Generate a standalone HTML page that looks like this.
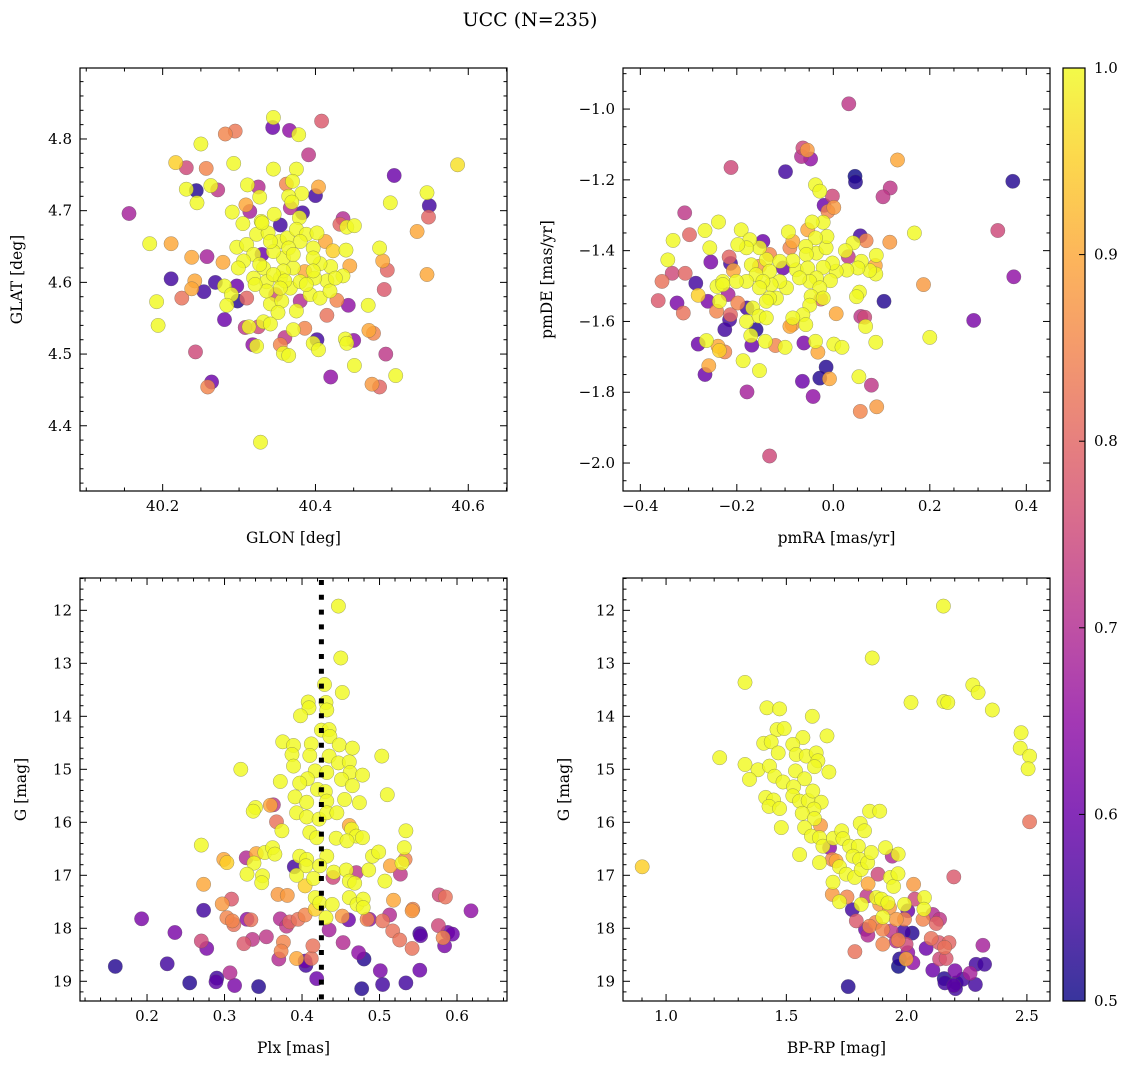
<!DOCTYPE html>
<html><head><meta charset="utf-8">
<style>
html,body{margin:0;padding:0;background:#fff;}
svg{display:block;font-family:"DejaVu Serif","Liberation Serif",serif;}
</style></head>
<body>
<svg id="fig" width="1136" height="1068" viewBox="0 0 1136 1068" xmlns="http://www.w3.org/2000/svg">
<defs>
<linearGradient id="plasmaGrad" x1="0" y1="1" x2="0" y2="0">
<stop offset="0" stop-color="#0d0887"/><stop offset="0.1" stop-color="#41049d"/><stop offset="0.2" stop-color="#6a00a8"/><stop offset="0.3" stop-color="#8f0da4"/><stop offset="0.4" stop-color="#b12a90"/><stop offset="0.5" stop-color="#cc4778"/><stop offset="0.6" stop-color="#e16462"/><stop offset="0.7" stop-color="#f2844b"/><stop offset="0.8" stop-color="#fca636"/><stop offset="0.9" stop-color="#fcce25"/><stop offset="1" stop-color="#f0f921"/>
</linearGradient>
</defs>
<text x="530" y="26" font-size="19" text-anchor="middle">UCC (N=235)</text>
</svg>
<script>
// ---- Panel 1: GLON vs GLAT ----
const tlGlon=[40.345,40.344,40.366,40.378,40.408,40.282,40.295,40.250,40.391,40.217,40.231,40.257,40.293,40.345,40.375,40.586,40.503,40.231,40.244,40.272,40.263,40.245,40.311,40.325,40.327,40.362,40.370,40.382,40.404,40.400,40.365,40.546,40.549,40.548,40.498,40.156,40.291,40.309,40.314,40.369,40.383,40.346,40.367,40.379,40.533,40.436,40.432,40.441,40.451,40.305,40.329,40.354,40.183,40.211,40.238,40.258,40.279,40.297,40.310,40.323,40.338,40.353,40.363,40.375,40.388,40.402,40.413,40.423,40.440,40.484,40.488,40.494,40.546,40.490,40.445,40.436,40.420,40.406,40.415,40.399,40.386,40.371,40.358,40.345,40.330,40.319,40.306,40.299,40.332,40.319,40.336,40.354,40.367,40.380,40.393,40.406,40.419,40.428,40.211,40.242,40.238,40.254,40.225,40.269,40.281,40.297,40.290,40.298,40.310,40.284,40.192,40.194,40.348,40.341,40.356,40.375,40.380,40.351,40.443,40.469,40.415,40.281,40.332,40.341,40.313,40.308,40.325,40.371,40.386,40.360,40.354,40.318,40.323,40.402,40.397,40.404,40.439,40.450,40.441,40.470,40.476,40.358,40.365,40.243,40.492,40.451,40.420,40.505,40.474,40.484,40.264,40.259,40.328,40.330,40.380,40.397,40.365,40.371,40.341,40.397,40.327,40.358,40.345,40.360,40.388,40.354,40.336,40.321,40.397,40.426];
const tlGlat=[4.830,4.816,4.812,4.806,4.825,4.807,4.811,4.793,4.778,4.767,4.760,4.759,4.766,4.758,4.758,4.764,4.749,4.730,4.728,4.729,4.735,4.711,4.736,4.733,4.719,4.737,4.741,4.724,4.733,4.721,4.720,4.725,4.707,4.691,4.711,4.696,4.698,4.708,4.699,4.712,4.697,4.695,4.704,4.690,4.671,4.689,4.681,4.677,4.679,4.682,4.685,4.680,4.654,4.654,4.635,4.636,4.628,4.649,4.653,4.667,4.669,4.657,4.662,4.674,4.667,4.669,4.657,4.644,4.645,4.648,4.630,4.617,4.611,4.590,4.623,4.609,4.622,4.626,4.602,4.606,4.615,4.620,4.634,4.643,4.639,4.639,4.630,4.620,4.620,4.606,4.601,4.606,4.592,4.601,4.583,4.578,4.588,4.575,4.605,4.602,4.591,4.587,4.578,4.600,4.595,4.595,4.583,4.574,4.578,4.568,4.573,4.540,4.583,4.570,4.574,4.560,4.574,4.558,4.568,4.568,4.554,4.548,4.545,4.542,4.538,4.537,4.538,4.534,4.536,4.523,4.513,4.513,4.511,4.520,4.515,4.506,4.521,4.519,4.515,4.533,4.529,4.501,4.498,4.503,4.500,4.484,4.468,4.470,4.458,4.454,4.461,4.454,4.377,4.683,4.657,4.648,4.648,4.639,4.657,4.634,4.625,4.616,4.611,4.602,4.597,4.592,4.588,4.597,4.616,4.606];
const tlProb=[1.0,0.6,0.65,1.0,0.78,0.85,0.83,1.0,0.72,0.95,0.75,0.85,1.0,1.0,1.0,0.97,0.6,1.0,0.52,0.72,1.0,1.0,1.0,0.7,1.0,0.85,1.0,1.0,0.9,0.55,1.0,1.0,0.55,0.8,1.0,0.68,1.0,0.9,0.68,1.0,0.55,1.0,0.7,1.0,0.9,0.7,0.8,1.0,1.0,1.0,1.0,0.55,1.0,0.9,0.9,0.68,0.9,1.0,1.0,1.0,1.0,1.0,1.0,1.0,1.0,1.0,0.9,0.95,1.0,1.0,0.9,0.8,0.9,0.78,0.9,1.0,1.0,1.0,1.0,1.0,0.9,1.0,1.0,1.0,0.6,1.0,1.0,1.0,1.0,1.0,1.0,1.0,1.0,1.0,1.0,1.0,1.0,0.85,0.55,0.9,0.9,0.55,0.82,0.55,1.0,0.6,1.0,0.52,0.8,1.0,1.0,1.0,0.75,1.0,1.0,1.0,0.7,1.0,0.65,1.0,0.82,0.6,1.0,1.0,1.0,0.72,0.75,1.0,0.85,0.72,0.85,0.65,1.0,0.55,1.0,1.0,1.0,0.65,1.0,0.9,0.85,1.0,1.0,0.75,0.72,1.0,0.65,1.0,0.88,0.8,0.6,0.85,1.0,1.0,1.0,1.0,1.0,1.0,1.0,1.0,1.0,1.0,1.0,1.0,1.0,1.0,1.0,1.0,1.0,1.0];
const tlXTicks=[40.2,40.4,40.6];
const tlYTicks=[4.4,4.5,4.6,4.7,4.8];

// ---- Panel 2: pmRA vs pmDE ----
const trPmra=[0.032,-0.063,-0.054,-0.066,-0.047,0.133,-0.212,-0.099,0.045,0.046,0.372,0.118,0.103,-0.037,-0.028,-0.002,-0.019,0.001,-0.011,-0.308,0.341,0.168,-0.332,-0.298,-0.266,-0.238,-0.256,-0.191,-0.343,-0.334,-0.307,-0.355,-0.285,-0.363,-0.324,-0.311,-0.280,-0.260,-0.242,-0.254,-0.216,-0.213,-0.207,-0.218,-0.241,-0.229,-0.236,-0.198,-0.179,-0.167,-0.213,-0.215,-0.225,-0.180,-0.154,-0.139,-0.160,-0.171,-0.169,-0.141,-0.120,-0.100,-0.280,-0.263,-0.239,-0.225,-0.236,-0.258,-0.266,-0.187,-0.153,-0.179,-0.061,-0.037,-0.032,0.001,0.018,-0.015,-0.028,-0.008,-0.064,-0.042,0.053,0.079,0.056,0.090,-0.132,0.088,0.200,0.291,0.374,0.187,0.105,0.057,0.065,0.067,0.006,0.054,0.048,-0.026,0.117,0.056,0.068,0.041,0.025,0.031,0.089,0.087,0.088,0.075,0.058,0.051,0.028,0.006,-0.006,-0.002,-0.021,-0.035,-0.015,-0.013,-0.037,-0.021,-0.044,-0.053,-0.057,-0.056,-0.077,-0.053,-0.035,-0.049,-0.028,-0.046,-0.049,-0.063,-0.057,-0.084,-0.090,-0.085,-0.093,-0.084,-0.090,-0.084,-0.104,-0.097,-0.111,-0.129,-0.118,-0.139,-0.132,-0.146,-0.153,-0.173,-0.180,-0.198,-0.170,-0.153,-0.160,-0.132,-0.146,-0.153,-0.132,-0.139,-0.180,-0.201,-0.229,-0.111,-0.070,-0.021];
const trPmde=[-0.985,-1.110,-1.116,-1.134,-1.141,-1.144,-1.165,-1.177,-1.190,-1.206,-1.204,-1.223,-1.248,-1.214,-1.232,-1.246,-1.272,-1.278,-1.289,-1.293,-1.343,-1.350,-1.371,-1.355,-1.343,-1.319,-1.392,-1.341,-1.426,-1.464,-1.464,-1.487,-1.492,-1.541,-1.548,-1.576,-1.526,-1.543,-1.571,-1.432,-1.418,-1.436,-1.456,-1.524,-1.501,-1.487,-1.543,-1.548,-1.562,-1.562,-1.581,-1.595,-1.623,-1.600,-1.585,-1.590,-1.623,-1.640,-1.667,-1.656,-1.668,-1.673,-1.664,-1.654,-1.670,-1.686,-1.682,-1.725,-1.750,-1.711,-1.739,-1.799,-1.661,-1.656,-1.687,-1.664,-1.673,-1.729,-1.760,-1.762,-1.769,-1.812,-1.756,-1.780,-1.854,-1.841,-1.980,-1.659,-1.645,-1.597,-1.474,-1.496,-1.543,-1.586,-1.588,-1.614,-1.578,-1.517,-1.530,-1.537,-1.376,-1.358,-1.372,-1.378,-1.400,-1.417,-1.413,-1.442,-1.466,-1.456,-1.430,-1.449,-1.455,-1.458,-1.485,-1.435,-1.447,-1.407,-1.392,-1.360,-1.364,-1.320,-1.319,-1.341,-1.388,-1.411,-1.454,-1.449,-1.477,-1.487,-1.505,-1.529,-1.554,-1.581,-1.609,-1.590,-1.614,-1.609,-1.347,-1.374,-1.392,-1.428,-1.449,-1.505,-1.487,-1.496,-1.534,-1.425,-1.411,-1.374,-1.392,-1.369,-1.392,-1.383,-1.440,-1.444,-1.468,-1.458,-1.487,-1.505,-1.534,-1.543,-1.487,-1.487,-1.496,-1.430,-1.477,-1.534];
const trProb=[0.72,0.75,0.88,0.7,0.65,0.9,0.75,0.55,0.5,0.52,0.52,0.72,0.72,1.0,1.0,0.75,0.6,0.88,0.85,0.72,0.75,1.0,1.0,0.8,1.0,1.0,1.0,1.0,1.0,0.75,0.8,0.82,0.55,0.78,0.62,0.82,0.95,0.62,0.85,0.62,0.8,0.55,0.9,0.68,1.0,1.0,1.0,0.85,0.55,1.0,0.8,0.55,0.55,1.0,1.0,1.0,0.52,1.0,0.6,1.0,0.85,1.0,0.6,1.0,0.9,0.85,0.95,0.9,0.6,1.0,1.0,0.68,0.62,1.0,0.9,1.0,1.0,0.52,0.52,0.9,0.6,0.65,1.0,0.72,0.85,0.88,0.75,1.0,1.0,0.62,0.65,0.88,0.52,0.72,0.75,1.0,0.9,1.0,1.0,0.8,0.88,0.55,0.85,1.0,1.0,0.72,1.0,0.9,1.0,1.0,1.0,1.0,1.0,1.0,1.0,1.0,1.0,1.0,1.0,1.0,1.0,1.0,1.0,0.9,1.0,1.0,1.0,1.0,1.0,1.0,1.0,1.0,1.0,1.0,1.0,1.0,0.9,0.88,1.0,0.9,0.85,1.0,0.6,1.0,1.0,1.0,1.0,1.0,0.85,0.6,1.0,1.0,1.0,1.0,1.0,0.88,1.0,1.0,1.0,1.0,1.0,1.0,1.0,1.0,1.0,1.0,1.0,1.0,1.0,0.75];
const trXTicks=[-0.4,-0.2,0.0,0.2,0.4];
const trYTicks=[-1.0,-1.2,-1.4,-1.6,-1.8,-2.0];

// ---- Panel 3: Plx vs G ----
const blPlx=[0.447,0.450,0.452,0.429,0.431,0.432,0.408,0.409,0.398,0.425,0.435,0.436,0.375,0.389,0.387,0.412,0.410,0.435,0.448,0.465,0.503,0.447,0.461,0.389,0.321,0.417,0.432,0.462,0.478,0.407,0.397,0.372,0.451,0.465,0.420,0.430,0.391,0.406,0.432,0.455,0.474,0.510,0.340,0.337,0.359,0.363,0.393,0.406,0.422,0.432,0.445,0.367,0.374,0.410,0.419,0.444,0.461,0.464,0.470,0.478,0.534,0.458,0.270,0.352,0.362,0.365,0.341,0.328,0.299,0.303,0.338,0.397,0.406,0.432,0.405,0.390,0.393,0.423,0.441,0.457,0.470,0.486,0.491,0.499,0.532,0.514,0.529,0.533,0.527,0.507,0.461,0.468,0.440,0.415,0.404,0.329,0.349,0.348,0.273,0.369,0.381,0.417,0.423,0.439,0.461,0.471,0.479,0.479,0.518,0.297,0.309,0.577,0.585,0.618,0.543,0.542,0.513,0.273,0.193,0.303,0.310,0.312,0.329,0.334,0.372,0.380,0.384,0.395,0.404,0.417,0.431,0.452,0.460,0.484,0.487,0.504,0.236,0.270,0.277,0.325,0.336,0.354,0.376,0.373,0.370,0.393,0.404,0.405,0.412,0.414,0.435,0.453,0.473,0.480,0.517,0.526,0.542,0.552,0.553,0.576,0.582,0.588,0.594,0.584,0.159,0.226,0.255,0.290,0.289,0.307,0.313,0.344,0.419,0.477,0.501,0.504,0.534,0.552];
const blG=[11.92,12.90,13.55,13.40,13.74,13.88,13.73,13.84,13.99,14.26,14.25,14.38,14.48,14.55,14.72,14.52,14.74,14.75,14.54,14.60,14.75,14.88,14.86,14.94,15.00,15.03,15.06,15.06,15.11,15.18,15.26,15.23,15.19,15.31,15.38,15.42,15.52,15.62,15.60,15.57,15.63,15.48,15.72,15.79,15.68,15.67,15.82,15.90,15.94,15.82,15.82,15.99,16.16,16.19,16.29,16.30,16.06,16.13,16.26,16.29,16.16,16.35,16.43,16.57,16.48,16.60,16.59,16.67,16.70,16.76,16.77,16.64,16.70,16.64,16.82,16.84,17.00,16.82,16.94,16.90,16.95,16.90,16.64,16.56,16.48,16.82,16.77,16.70,16.98,17.11,17.11,17.15,17.04,17.06,17.20,16.98,17.01,17.14,17.17,17.36,17.38,17.42,17.52,17.55,17.42,17.55,17.45,17.61,17.47,17.54,17.45,17.37,17.41,17.67,17.64,17.67,17.75,17.66,17.82,17.80,17.86,17.93,17.83,17.84,17.82,17.96,17.88,17.83,17.75,17.64,17.80,17.77,17.84,17.83,17.83,17.86,18.08,18.24,18.38,18.29,18.21,18.16,18.26,18.43,18.58,18.57,18.62,18.70,18.57,18.33,18.03,18.27,18.46,18.58,18.05,18.22,18.38,18.10,18.14,17.95,18.18,18.08,18.11,18.33,18.72,18.67,19.03,18.94,19.01,18.84,19.08,19.10,18.95,19.14,18.80,19.06,19.03,18.79];
const blProb=[1,1,1,1,1,1,1,1,1,1,1,1,1,1,1,1,1,1,1,1,1,1,1,1,1,1,1,1,1,1,1,1,1,1,1,1,1,1,1,1,1,1,1,1,0.9,0.72,1,1,1,1,1,0.82,1,1,1,1,0.9,1,1,1,1,1,1,1,1,1,0.9,0.7,0.9,0.95,1,1,1,1,1,0.55,1,1,1,1,0.72,1,1,1,1,0.9,1,0.85,0.72,1,1,1,0.75,1,0.95,1,1,1,0.9,0.88,0.88,1,1,1,1,1,1,1,0.9,0.88,0.78,0.75,0.82,0.65,0.85,0.88,0.7,0.55,0.62,0.85,0.85,0.82,0.65,0.82,0.7,0.72,0.8,0.82,0.85,0.95,1,0.88,0.6,0.85,0.65,0.82,0.62,0.75,0.62,0.78,0.72,0.72,0.85,0.85,0.7,0.9,0.6,0.55,0.82,0.82,0.68,0.7,0.65,0.52,0.82,0.82,0.82,0.55,0.58,0.75,0.85,0.6,0.6,0.62,0.52,0.55,0.52,0.55,0.58,0.7,0.62,0.52,0.6,0.52,0.62,0.55,0.55,0.6];
const blXTicks=[0.2,0.3,0.4,0.5,0.6];
const blYTicks=[12,13,14,15,16,17,18,19];
const plxLine=[0.425];

// ---- Panel 4: BP-RP vs G ----
const brBprp=[2.153,1.857,1.328,2.275,2.297,2.018,2.155,2.171,2.356,1.419,1.472,1.608,2.476,1.461,1.491,1.569,1.669,1.406,1.437,1.527,2.472,2.511,2.505,1.223,1.328,1.382,1.347,1.430,1.466,1.451,1.541,1.583,1.624,1.631,1.617,1.677,1.538,1.576,1.486,1.414,1.447,1.428,1.472,1.530,1.527,1.555,1.591,1.610,1.645,1.615,1.566,1.479,1.617,1.642,1.576,1.604,1.638,1.652,1.680,1.696,1.730,1.735,1.807,1.825,1.846,1.888,1.912,1.555,1.638,1.707,1.691,1.763,1.799,1.777,1.805,1.721,1.749,1.784,1.811,1.838,1.853,1.940,1.965,1.881,1.932,1.946,1.964,2.196,2.511,0.901,1.694,1.691,1.721,1.752,1.840,1.835,1.874,1.895,1.922,1.888,1.811,2.029,2.034,2.074,1.991,2.072,1.774,1.791,1.901,1.929,1.957,1.991,2.005,2.068,2.109,2.137,2.123,1.871,1.829,1.839,1.846,1.901,1.936,1.987,2.023,1.965,1.998,1.901,1.957,1.785,2.005,1.998,1.971,1.966,2.026,2.081,2.102,2.134,2.158,2.176,2.137,2.164,2.109,2.317,2.201,2.264,2.289,2.324,2.156,2.159,2.206,2.234,2.196,2.203,2.286,1.757];
const brG=[11.92,12.90,13.36,13.41,13.55,13.74,13.72,13.74,13.88,13.84,13.86,14.00,14.31,14.25,14.23,14.40,14.37,14.51,14.48,14.53,14.60,14.75,14.99,14.78,14.91,15.01,15.19,14.94,14.69,15.13,14.72,14.75,14.69,14.84,14.95,15.05,15.03,15.18,15.24,15.53,15.58,15.70,15.74,15.33,15.50,15.60,15.59,15.41,15.62,15.75,15.83,16.10,15.93,16.06,16.10,16.26,16.29,16.45,16.48,16.30,16.16,16.31,16.02,16.16,15.79,15.79,16.48,16.61,16.76,16.73,16.70,16.45,16.45,16.64,16.70,16.84,16.98,17.04,16.89,16.76,16.57,16.64,16.60,16.98,17.04,17.21,16.97,17.03,15.99,16.84,17.13,17.36,17.50,17.41,17.16,17.39,17.42,17.45,17.52,17.55,17.55,17.17,17.45,17.42,17.55,17.64,17.65,17.86,17.79,17.61,17.83,17.83,17.67,17.83,17.74,17.83,17.91,17.89,18.02,18.13,17.96,18.02,18.05,18.07,18.09,18.22,18.30,18.30,18.24,18.44,18.46,18.58,18.58,18.72,18.65,18.38,18.19,18.27,18.36,18.27,18.58,18.57,18.79,18.32,18.80,18.85,18.68,18.68,18.95,19.03,19.03,18.96,19.08,19.14,19.06,19.10];
const brProb=[1,1,1,1,1,1,1,1,1,1,1,1,1,1,1,1,1,1,1,1,1,1,1,1,1,1,1,1,1,1,1,1,1,1,1,1,1,1,1,1,1,1,1,1,1,1,1,1,1,1,1,1,1,0.88,1,1,1,1,0.65,1,1,1,1,1,1,1,1,1,1,0.9,0.85,1,1,1,1,1,1,1,1,1,1,0.7,1,0.75,1,1,1,0.78,0.82,0.95,1,0.88,1,0.85,0.9,0.72,1,1,1,0.88,1,0.88,0.75,1,1,1,0.55,0.78,1,0.88,0.88,0.85,0.6,0.85,0.7,0.72,0.8,0.85,0.6,0.7,0.85,0.85,0.72,0.55,0.52,0.85,0.75,0.85,0.7,0.82,0.65,0.9,0.52,0.5,0.65,0.6,0.82,0.78,0.82,0.8,0.75,0.78,0.6,0.68,0.62,0.68,0.55,0.55,0.52,0.55,0.55,0.55,0.58,0.55,0.55,0.52];
const brXTicks=[1.0,1.5,2.0,2.5];
const brYTicks=[12,13,14,15,16,17,18,19];

const cbTicks=[0.5,0.6,0.7,0.8,0.9,1.0];

const NS="http://www.w3.org/2000/svg";
const svg=document.getElementById('fig');
const plasma=[[13,8,135],[65,4,157],[106,0,168],[143,13,164],[177,42,144],[204,71,120],[225,100,98],[242,132,75],[252,166,54],[252,206,37],[240,249,33]];
function cmap(p){
  let t=(p-0.5)/0.5; t=Math.max(0,Math.min(1,t));
  const f=t*10, i=Math.min(9,Math.floor(f)), r=f-i;
  const a=plasma[i], b=plasma[i+1];
  return 'rgb('+[0,1,2].map(k=>Math.round(a[k]+(b[k]-a[k])*r)).join(',')+')';
}
function mk(tag,attrs,parent){
  const e=document.createElementNS(NS,tag);
  for(const k in attrs) e.setAttribute(k,attrs[k]);
  (parent||svg).appendChild(e);
  return e;
}
function fmt(v,d){return (v<0?'\u2212':'')+Math.abs(v).toFixed(d);}

function panel(o){
  const g=mk('g',{});
  
  
  const X=v=>o.x0+(v-o.xd[0])/(o.xd[1]-o.xd[0])*(o.x1-o.x0);
  const Y=v=>o.y1-(v-o.yd[0])/(o.yd[1]-o.yd[0])*(o.y1-o.y0);
  const idx=o.xs.map((_,i)=>i).sort((a,b)=>o.ps[a]-o.ps[b]);
  const pts=mk('g',{},g);
  
  
  idx.forEach(i=>{
    const c=mk('circle',{cx:X(o.xs[i]).toFixed(1),cy:Y(o.ys[i]).toFixed(1),r:7.2,fill:cmap(o.ps[i]),'fill-opacity':0.82,stroke:'#555','stroke-width':0.5,'stroke-opacity':0.55},pts);
    
    
  });
  if(o.vline){
    o.vline.forEach(v=>{
      const l=mk('line',{x1:X(v),x2:X(v),y1:o.y0+2,y2:o.y1,stroke:'#000','stroke-width':5,'stroke-dasharray':'5 9.8'},g);
      
      
    });
  }
  const fr=mk('rect',{x:o.x0,y:o.y0,width:o.x1-o.x0,height:o.y1-o.y0,fill:'none',stroke:'#000','stroke-width':1.2},g);
  
  
  const tk=mk('g',{stroke:'#000','stroke-width':1},g);
  
  
  const xr=[Math.min(...o.xd),Math.max(...o.xd)], yr=[Math.min(...o.yd),Math.max(...o.yd)];
  for(let v=Math.ceil(xr[0]/o.xm-1e-6)*o.xm; v<=xr[1]+1e-9; v+=o.xm){
    const isMaj=o.xt.some(t=>Math.abs(t-v)<o.xm/3); const L=isMaj?7:3.5; const px=X(v);
    mk('line',{x1:px,x2:px,y1:o.y1,y2:o.y1-L},tk); mk('line',{x1:px,x2:px,y1:o.y0,y2:o.y0+L},tk);
  }
  for(let v=Math.ceil(yr[0]/o.ym-1e-6)*o.ym; v<=yr[1]+1e-9; v+=o.ym){
    const isMaj=o.yt.some(t=>Math.abs(t-v)<o.ym/3); const L=isMaj?7:3.5; const py=Y(v);
    mk('line',{x1:o.x0,x2:o.x0+L,y1:py,y2:py},tk); mk('line',{x1:o.x1,x2:o.x1-L,y1:py,y2:py},tk);
  }
  o.xt.forEach(v=>{
    const t=mk('text',{x:X(v),y:o.y1+20,'font-size':15,'text-anchor':'middle'},g);
    t.textContent=fmt(v,o.xdec);
    
    
  });
  o.yt.forEach(v=>{
    const t=mk('text',{x:o.x0-8,y:Y(v)+5,'font-size':15,'text-anchor':'end'},g);
    t.textContent=fmt(v,o.ydec);
    
    
  });
  const xl=mk('text',{x:(o.x0+o.x1)/2,y:o.y1+52,'font-size':15.5,'text-anchor':'middle'},g);
  xl.textContent=o.xlabel;
  
  
  const yl=mk('text',{x:0,y:0,'font-size':15.5,'text-anchor':'middle',transform:'translate('+o.ylx+','+((o.y0+o.y1)/2)+') rotate(-90)'},g);
  yl.textContent=o.ylabel;
  
  
}

panel({name:'glon-glat-panel',x0:80,x1:507,y0:68,y1:491,xd:[40.0918,40.6507],yd:[4.309,4.899],xs:tlGlon,ys:tlGlat,ps:tlProb,xt:tlXTicks,yt:tlYTicks,xm:0.05,ym:0.02,xdec:1,ydec:1,xlabel:'GLON [deg]',ylabel:'GLAT [deg]',ylx:22});
panel({name:'pm-panel',x0:623,x1:1050,y0:68,y1:491,xd:[-0.4359,0.4491],yd:[-2.079,-0.884],xs:trPmra,ys:trPmde,ps:trProb,xt:trXTicks,yt:trYTicks,xm:0.05,ym:0.05,xdec:1,ydec:1,xlabel:'pmRA [mas/yr]',ylabel:'pmDE [mas/yr]',ylx:552});
panel({name:'plx-g-panel',x0:80,x1:507,y0:578,y1:1001,xd:[0.1135,0.6645],yd:[19.372,11.39],xs:blPlx,ys:blG,ps:blProb,xt:blXTicks,yt:blYTicks,xm:0.02,ym:0.2,xdec:1,ydec:0,xlabel:'Plx [mas]',ylabel:'G [mag]',ylx:26,vline:plxLine});
panel({name:'cmd-panel',x0:623,x1:1050,y0:578,y1:1001,xd:[0.821,2.596],yd:[19.372,11.39],xs:brBprp,ys:brG,ps:brProb,xt:brXTicks,yt:brYTicks,xm:0.1,ym:0.2,xdec:1,ydec:0,xlabel:'BP-RP [mag]',ylabel:'G [mag]',ylx:569});

const cb=mk('g',{});


const cbY=v=>1001-(v-0.5)/0.5*933;
const cbr=mk('rect',{x:1063,y:68,width:22,height:933,fill:'url(#plasmaGrad)','fill-opacity':0.82,stroke:'#000','stroke-width':1.2},cb);


cbTicks.forEach(v=>{
  mk('line',{x1:1085,x2:1079,y1:cbY(v),y2:cbY(v),stroke:'#000','stroke-width':1},cb);
  const t=mk('text',{x:1094,y:cbY(v)+5,'font-size':15},cb);
  t.textContent=v.toFixed(1);
  
  
});
</script>
</body></html>
